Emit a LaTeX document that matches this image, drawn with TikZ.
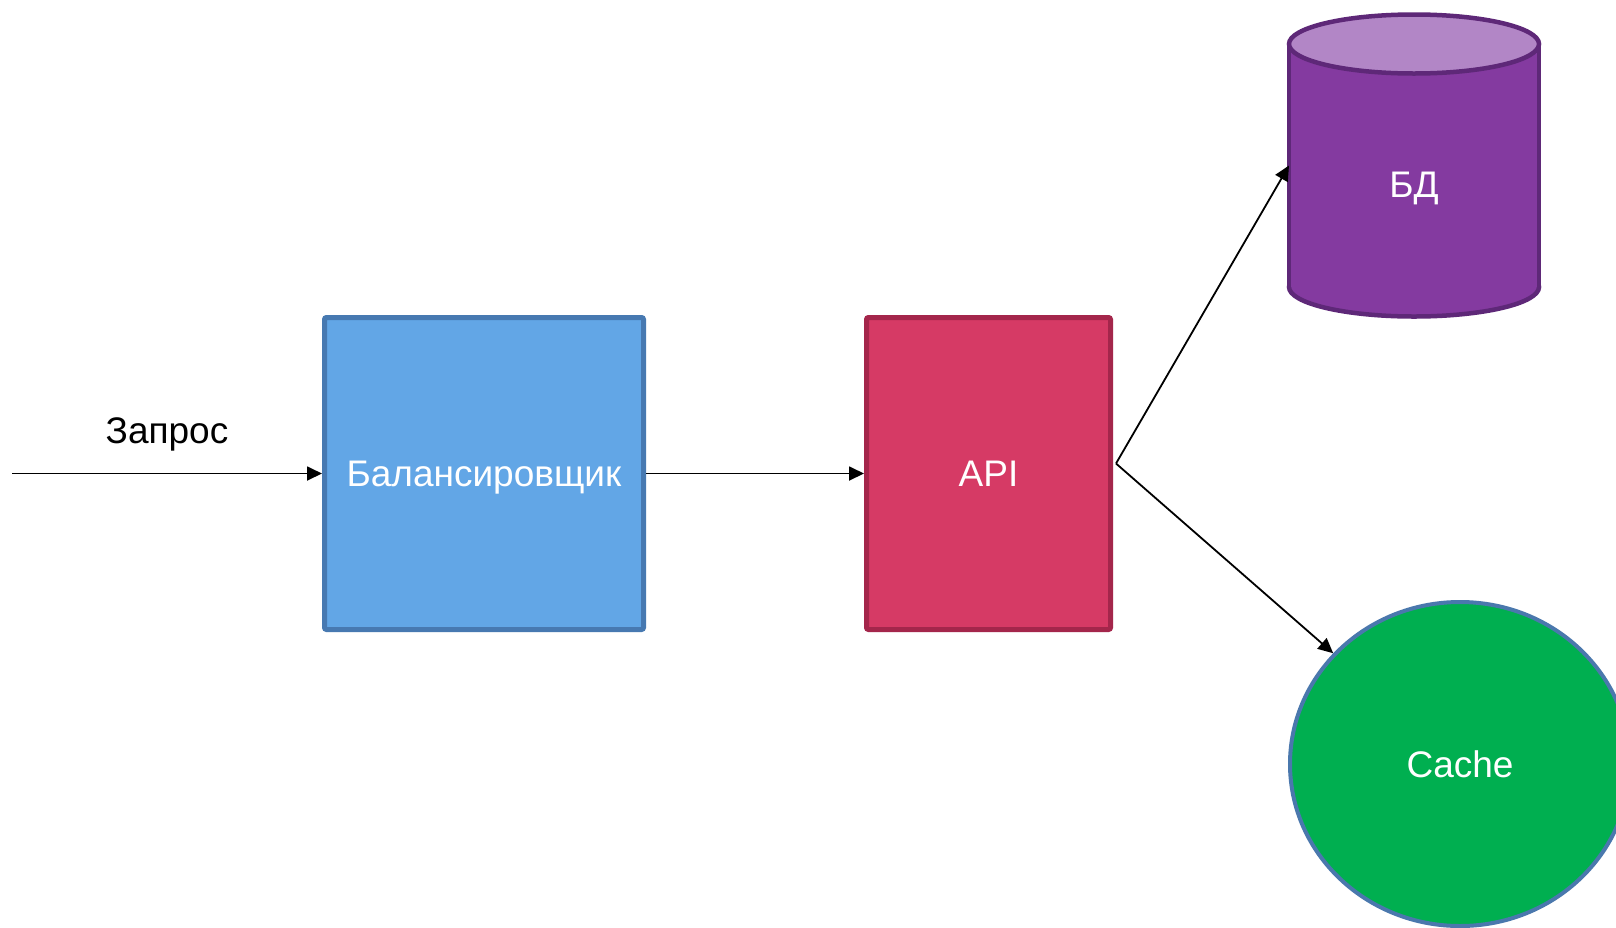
\documentclass[tikz,border=0pt]{standalone}
\usepackage{fontspec}
\setmainfont{Liberation Sans}
\usetikzlibrary{arrows.meta,shapes.geometric}
\definecolor{balfill}{HTML}{62A6E6}
\definecolor{balline}{HTML}{4779B1}
\definecolor{apifill}{HTML}{D63A65}
\definecolor{apiline}{HTML}{A4264B}
\definecolor{dbbody}{HTML}{843AA0}
\definecolor{dbtop}{HTML}{B286C6}
\definecolor{dbline}{HTML}{5E2878}
\definecolor{cachefill}{HTML}{00AF50}
\definecolor{cacheline}{HTML}{4A78AD}
\tikzset{
  bigfont/.style={font=\fontsize{37}{44}\selectfont},
  boxnode/.style={rectangle, line width=5pt, rounded corners=2pt, inner sep=0pt,
    text=white, bigfont, text height=26.5pt, text depth=0pt},
  conn/.style={line width=1.8pt, -{Triangle[length=15pt,width=14pt]}},
  lbl/.style={bigfont, text=white, inner sep=0pt, text height=26.5pt, text depth=0pt},
  dbshape/.style={line width=4.5pt, draw=dbline},
}
\begin{document}
\begin{tikzpicture}[x=1pt,y=-1pt]
\useasboundingbox (0,0) rectangle (1616,927);
\clip (0,0) rectangle (1616,927);
\fill[white] (0,0) rectangle (1616,927);

% boxes
\node[boxnode, draw=balline, fill=balfill, minimum width=319pt, minimum height=312pt] (bal) at (484,473.5) {Балансировщик};
\node[boxnode, draw=apiline, fill=apifill, minimum width=244pt, minimum height=312pt] (api) at (988.5,473.5) {API};

% database cylinder
\fill[dbbody] (1414,287) ellipse [x radius=125, y radius=29.5];
\draw[dbshape] (1414,287) ellipse [x radius=125, y radius=29.5];
\fill[dbbody] (1289,44) rectangle (1539,287);
\draw[dbshape] (1289,44) -- (1289,287);
\draw[dbshape] (1539,44) -- (1539,287);
\draw[dbshape, fill=dbtop] (1414,44) ellipse [x radius=125, y radius=29.5];
\node[rectangle, draw=none, outer sep=0pt, inner sep=0pt, minimum width=250pt, minimum height=243pt] (db) at (1414,165.5) {};
\node[lbl] (dbtext) at (1414,184) {БД};

% cache
\node[ellipse, draw=cacheline, fill=cachefill, line width=4pt, inner sep=0pt,
  minimum width=340pt, minimum height=324pt, text=white,
  bigfont, text height=26.5pt, text depth=0pt] (cache) at (1460,764) {Cache};

% connectors
\coordinate (in) at (12,473.5);
\draw[conn] (in) -- (bal.west) node[midway, anchor=base, yshift=30pt, inner sep=0pt, bigfont] (req) {Запрос};
\draw[conn] (bal.east) -- (api.west);
\coordinate (fork) at ([xshift=3pt,yshift=10pt]api.east);
\draw[conn] (fork) -- (db.west);
\draw[conn] (fork) -- (cache);
\end{tikzpicture}
\end{document}
